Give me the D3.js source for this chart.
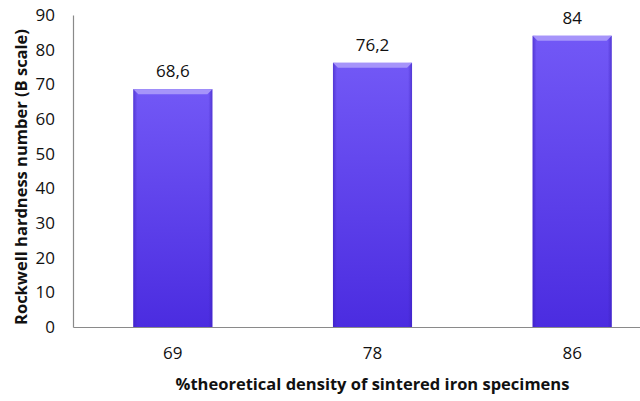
<!DOCTYPE html>
<html>
<head>
<meta charset="utf-8">
<script src="https://cdn.jsdelivr.net/npm/d3@7"></script>
<style>
  body { margin: 0; background: #fff; }
  text { font-family: "Open Sans", sans-serif; fill: #111; }
</style>
</head>
<body>
<div id="chart"></div>
<script>
// data
var categories = ["69", "78", "86"];
var hardness = [68.6, 76.2, 84];
var valueLabels = ["68,6", "76,2", "84"];
var yTicks = [0, 10, 20, 30, 40, 50, 60, 70, 80, 90];

var width = 640, height = 401;
var margin = {top: 15, left: 73, bottom: 74};

var svg = d3.select("#chart")
  .append("svg")
    .attr("width", width)
    .attr("height", height);

var defs = svg.append("defs");
var grad = defs.append("linearGradient")
    .attr("id", "barfill")
    .attr("x1", 0).attr("y1", 0).attr("x2", 0).attr("y2", 1);
grad.append("stop").attr("offset", "0%").attr("stop-color", "#7258f6");
grad.append("stop").attr("offset", "100%").attr("stop-color", "#4b2ce0");

var side = defs.append("linearGradient")
    .attr("id", "sidefill")
    .attr("x1", 0).attr("y1", 0).attr("x2", 1).attr("y2", 0);
side.append("stop").attr("offset", "0%").attr("stop-color", "#3a1fb8").attr("stop-opacity", 0.55);
side.append("stop").attr("offset", "5%").attr("stop-color", "#3a1fb8").attr("stop-opacity", 0);
side.append("stop").attr("offset", "95%").attr("stop-color", "#3a1fb8").attr("stop-opacity", 0);
side.append("stop").attr("offset", "100%").attr("stop-color", "#3a1fb8").attr("stop-opacity", 0.55);

var x = d3.scaleBand()
  .domain(categories)
  .range([margin.left, 672])
  .paddingInner(0.604)
  .paddingOuter(0.302);

var y = d3.scaleLinear()
  .domain([0, 90])
  .range([height - margin.bottom, margin.top]);

// bars
var bars = svg.selectAll(".bar")
  .data(hardness)
  .enter()
  .append("g")
    .attr("class", "bar");

bars.append("rect")
    .attr("x", function(d, i) { return x(categories[i]); })
    .attr("y", function(d) { return y(d); })
    .attr("width", x.bandwidth())
    .attr("height", function(d) { return y(0) - y(d); })
    .style("fill", "url(#barfill)");

bars.append("rect")
    .attr("x", function(d, i) { return x(categories[i]); })
    .attr("y", function(d) { return y(d); })
    .attr("width", x.bandwidth())
    .attr("height", function(d) { return y(0) - y(d); })
    .style("fill", "url(#sidefill)");

// bevel on top edge
bars.append("path")
    .attr("d", function(d, i) {
      var x0 = x(categories[i]), x1 = x0 + x.bandwidth(), t = y(d), b = 5;
      return "M" + x0 + "," + t + "L" + x1 + "," + t + "L" + (x1 - b) + "," + (t + b) +
             "L" + (x0 + b) + "," + (t + b) + "Z";
    })
    .style("fill", "#a694fa");

bars.append("text")
    .attr("x", function(d, i) { return x(categories[i]) + x.bandwidth() / 2; })
    .attr("y", function(d) { return y(d) - 12; })
    .attr("text-anchor", "middle")
    .style("font-size", "17px")
    .text(function(d, i) { return valueLabels[i]; });

// Y axis
var yAxis = svg.append("g")
    .attr("transform", "translate(" + margin.left + ",0)")
    .call(d3.axisLeft(y).tickValues(yTicks).tickSize(0).tickPadding(18));
yAxis.select(".domain").attr("stroke", "#8a8a8a").attr("stroke-width", 1.2);
yAxis.selectAll("text").style("font-size", "17px").style("fill", "#111");

// X axis
var xAxis = svg.append("g")
    .attr("transform", "translate(0," + y(0) + ")")
    .call(d3.axisBottom(x).tickSize(0).tickPadding(20).tickSizeOuter(0));
xAxis.select(".domain").attr("stroke", "#8a8a8a").attr("stroke-width", 1.2);
xAxis.selectAll("text").style("font-size", "17px").style("fill", "#111");

// axis titles
svg.append("text")
    .attr("x", (margin.left + 672) / 2)
    .attr("y", 390)
    .attr("text-anchor", "middle")
    .style("font-size", "16.5px")
    .style("font-weight", "bold")
    .text("%theoretical density of sintered iron specimens");

svg.append("text")
    .attr("transform", "translate(27," + 177 + ") rotate(-90)")
    .attr("text-anchor", "middle")
    .style("font-size", "16.5px")
    .style("font-weight", "bold")
    .text("Rockwell hardness number (B scale)");
</script>
</body>
</html>
